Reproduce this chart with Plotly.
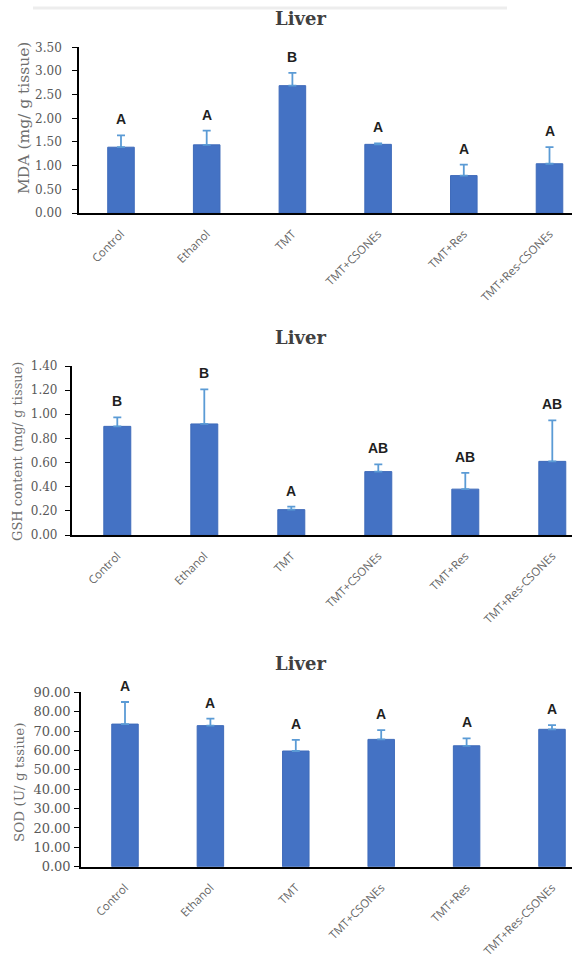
import plotly.graph_objects as go

# ---------------- data ----------------
categories = ["Control", "Ethanol", "TMT", "TMT+CSONEs", "TMT+Res", "TMT+Res-CSONEs"]

mda_mean = [1.39, 1.44, 2.69, 1.45, 0.79, 1.04]
mda_sd = [0.25, 0.30, 0.27, 0.02, 0.23, 0.35]
mda_letters = ["A", "A", "B", "A", "A", "A"]

gsh_mean = [0.90, 0.92, 0.21, 0.525, 0.38, 0.61]
gsh_sd = [0.075, 0.287, 0.025, 0.06, 0.135, 0.34]
gsh_letters = ["B", "B", "A", "AB", "AB", "AB"]

sod_mean = [73.6, 72.8, 59.7, 65.7, 62.4, 70.9]
sod_sd = [11.4, 3.6, 5.7, 4.8, 3.8, 2.2]
sod_letters = ["A", "A", "A", "A", "A", "A"]

panel_titles = ["Liver", "Liver", "Liver"]
y_titles = ["MDA (mg/ g tissue)", "GSH content (mg/ g tissue)", "SOD (U/ g tssiue)"]
y_max = [3.5, 1.4, 90]
y_dtick = [0.5, 0.2, 10]

# ---------------- layout helpers ----------------
W, H = 572, 958


def py(p):
    return 1 - p / H


def px(p):
    return p / W


layout_cfg = [
    dict(top=47.3, bottom=213, left=79, c0=121, step=85.7, title_y=19,
         yt_x=24, yt_y=118, yt_size=15.5, standoff=8, tsize=12),
    dict(top=366, bottom=535, left=71.7, c0=117.3, step=87, title_y=337,
         yt_x=17, yt_y=452, yt_size=13, standoff=5, tsize=12),
    dict(top=692.3, bottom=866.7, left=81, c0=125, step=85.4, title_y=663,
         yt_x=19, yt_y=783, yt_size=13.5, standoff=1, tsize=13),
]

series = [
    (mda_mean, mda_sd, mda_letters),
    (gsh_mean, gsh_sd, gsh_letters),
    (sod_mean, sod_sd, sod_letters),
]

BAR = "#4472C4"
ERR = "#5B9BD5"
GRAY = "#595959"

fig = go.Figure()
annotations = []
layout_axes = {}

for i, ((mean, sd, letters), cfg) in enumerate(zip(series, layout_cfg)):
    n = "" if i == 0 else str(i + 1)
    fig.add_trace(go.Bar(
        x=categories, y=mean,
        xaxis="x" + n, yaxis="y" + n,
        marker=dict(color=BAR, line=dict(color="#3F6BBA", width=1)),
        error_y=dict(type="data", array=sd, symmetric=False,
                     arrayminus=[0] * len(sd), color=ERR, thickness=1.8, width=4),
        showlegend=False, hoverinfo="x+y",
    ))

    xr = [(cfg["left"] - cfg["c0"]) / cfg["step"], (W - cfg["c0"]) / cfg["step"]]
    layout_axes["xaxis" + n] = dict(
        domain=[px(cfg["left"]), 1], range=xr, anchor="y" + n,
        type="category", automargin=False,
        showline=True, linecolor="black", linewidth=1.6,
        showgrid=False, zeroline=False, tickangle=-45,
        ticks="outside", ticklen=8, tickcolor="rgba(0,0,0,0)",
        tickfont=dict(family="Open Sans, Lato, sans-serif", size=11.5, color="#666666"),
    )
    layout_axes["yaxis" + n] = dict(
        domain=[py(cfg["bottom"]), py(cfg["top"])], range=[0, y_max[i]],
        dtick=y_dtick[i], tick0=0, tickformat=".2f", anchor="x" + n,
        automargin=False,
        showline=True, linecolor="black", linewidth=1.6,
        ticks="outside", ticklen=5, tickcolor="black", tickwidth=1.2,
        ticklabelstandoff=cfg["standoff"],
        showgrid=False, zeroline=False,
        tickfont=dict(family="DejaVu Serif, serif", size=cfg["tsize"], color=GRAY),
    )

    # significance letters
    for c, m, s, t in zip(categories, mean, sd, letters):
        annotations.append(dict(
            x=c, y=m + s, xref="x" + n, yref="y" + n, text="<b>%s</b>" % t,
            showarrow=False, yshift=16, yanchor="middle",
            font=dict(family="Liberation Sans, Arial, sans-serif", size=14, color="#1f1f1f"),
        ))

    # panel title
    annotations.append(dict(
        x=px(300), y=py(cfg["title_y"]), xref="paper", yref="paper",
        text="<b>%s</b>" % panel_titles[i], showarrow=False,
        xanchor="center", yanchor="middle",
        font=dict(family="DejaVu Serif, serif", size=18, color="#404040"),
    ))

    # y-axis title
    annotations.append(dict(
        x=px(cfg["yt_x"]), y=py(cfg["yt_y"]), xref="paper", yref="paper",
        text=y_titles[i], showarrow=False, textangle=-90,
        xanchor="center", yanchor="middle",
        font=dict(family="DejaVu Serif, serif", size=cfg["yt_size"], color="#6f6f6f"),
    ))

fig.update_layout(
    width=W, height=H,
    margin=dict(l=0, r=0, t=0, b=0, pad=0, autoexpand=False),
    paper_bgcolor="white", plot_bgcolor="white",
    bargap=0.69,
    annotations=annotations,
    shapes=[dict(type="line", xref="paper", yref="paper",
                 x0=px(33), x1=px(507), y0=py(8), y1=py(8),
                 line=dict(color="#ededed", width=3))],
    **layout_axes,
)

fig.write_html(
    "out.html",
    config={"responsive": False, "displayModeBar": False},
    post_script=(
        "document.body.style.margin='0';"
        "document.body.style.overflow='hidden';"
    ),
)
